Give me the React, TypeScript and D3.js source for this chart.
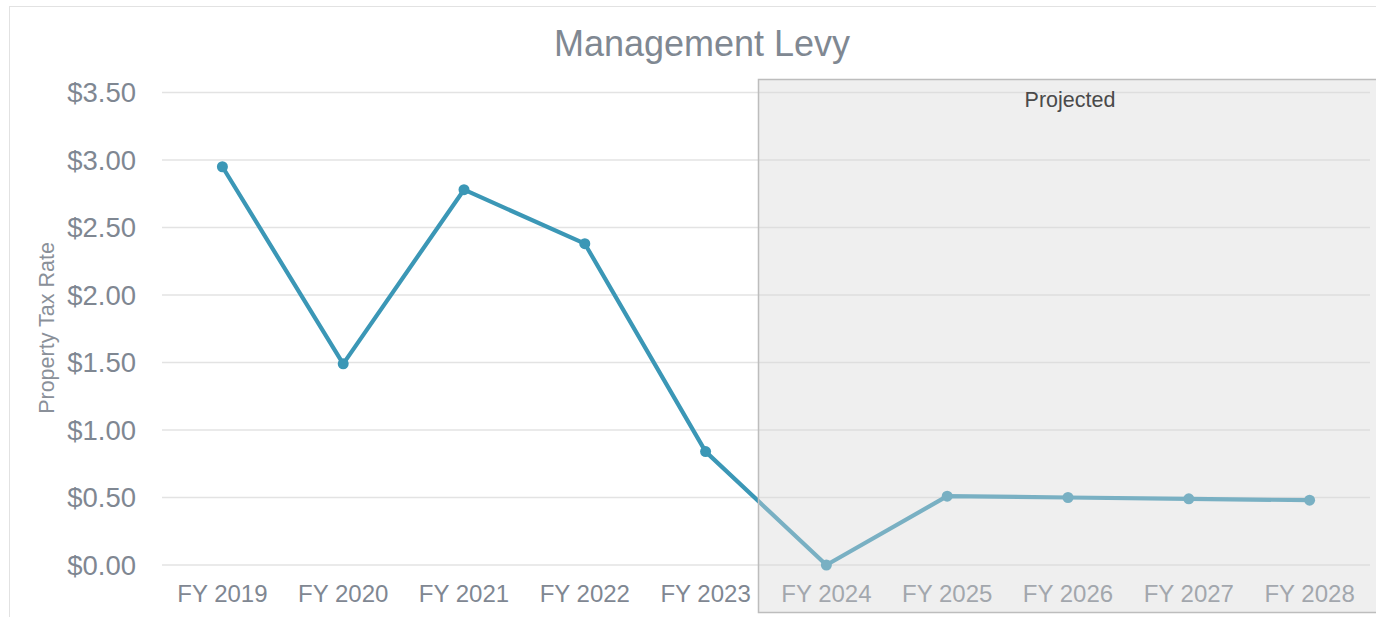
import React, { useEffect, useRef } from 'react';
import * as d3 from 'd3';

const years = ['FY 2019', 'FY 2020', 'FY 2021', 'FY 2022', 'FY 2023', 'FY 2024', 'FY 2025', 'FY 2026', 'FY 2027', 'FY 2028'];
const levy = [2.95, 1.49, 2.78, 2.38, 0.84, 0.0, 0.51, 0.5, 0.49, 0.48];
const yTicks = [0, 0.5, 1, 1.5, 2, 2.5, 3, 3.5];
const projectedFrom = 'FY 2024';

const W = 1376;
const H = 617;

export default function App() {
  const ref = useRef<SVGSVGElement>(null);

  useEffect(() => {
    const svg = d3.select(ref.current);
    svg.selectAll('*').remove();

    const font = '"Liberation Sans", Arial, sans-serif';
    const left = 162, right = 1370, top = 92.5, bottom = 565;

    // outer frame
    svg.append('rect')
      .attr('x', 9.5).attr('y', 6.5)
      .attr('width', W + 20).attr('height', H + 20)
      .attr('fill', '#fff').attr('stroke', '#e2e2e2');

    const x = d3.scaleBand().domain(years).range([left, right]).padding(0);
    const y = d3.scaleLinear().domain([0, 3.5]).range([bottom, top]);

    // gridlines
    svg.append('g')
      .selectAll('line')
      .data(yTicks)
      .join('line')
      .attr('x1', left).attr('x2', right)
      .attr('y1', d => y(d)).attr('y2', d => y(d))
      .attr('stroke', '#e3e3e3').attr('stroke-width', 1.5);

    // y ticks
    svg.append('g')
      .selectAll('text')
      .data(yTicks)
      .join('text')
      .attr('x', 136).attr('y', d => y(d))
      .attr('dy', '0.35em')
      .attr('text-anchor', 'end')
      .attr('font-family', font).attr('font-size', 27.5)
      .attr('fill', '#7f8792')
      .text(d => d3.format('$.2f')(d));

    // x ticks
    svg.append('g')
      .selectAll('text')
      .data(years)
      .join('text')
      .attr('x', d => (x(d) as number) + x.bandwidth() / 2)
      .attr('y', 602)
      .attr('text-anchor', 'middle')
      .attr('font-family', font).attr('font-size', 24)
      .attr('fill', '#7f8792')
      .text(d => d);

    // y axis title
    svg.append('text')
      .attr('transform', `translate(54,328) rotate(-90)`)
      .attr('text-anchor', 'middle')
      .attr('font-family', font).attr('font-size', 21.5)
      .attr('fill', '#8a9099')
      .text('Property Tax Rate');

    // title
    svg.append('text')
      .attr('x', 702).attr('y', 56)
      .attr('text-anchor', 'middle')
      .attr('font-family', font).attr('font-size', 36)
      .attr('fill', '#808892')
      .text('Management Levy');

    const cx = (d: string) => (x(d) as number) + x.bandwidth() / 2;

    // line
    const line = d3.line<number>()
      .x((_, i) => cx(years[i]))
      .y(d => y(d));
    svg.append('path')
      .datum(levy)
      .attr('d', line)
      .attr('fill', 'none')
      .attr('stroke', '#3b97b6')
      .attr('stroke-width', 4.2)
      .attr('stroke-linejoin', 'round');

    svg.append('g')
      .selectAll('circle')
      .data(levy)
      .join('circle')
      .attr('cx', (_, i) => cx(years[i]))
      .attr('cy', d => y(d))
      .attr('r', 5.5)
      .attr('fill', '#3b97b6');

    // projected overlay
    const px = (x(projectedFrom) as number) - 8;
    svg.append('rect')
      .attr('x', px + 0.5).attr('y', 79.5)
      .attr('width', W + 20 - px).attr('height', 533)
      .attr('fill', 'rgb(214,214,214)').attr('fill-opacity', 0.4)
      .attr('stroke', '#bdbdbd').attr('stroke-width', 1.5);

    svg.append('text')
      .attr('x', 1070).attr('y', 107)
      .attr('text-anchor', 'middle')
      .attr('font-family', font).attr('font-size', 21.5)
      .attr('fill', '#4a4a4a')
      .text('Projected');
  }, []);

  return (
    <svg ref={ref} width={W} height={H}
      style={{ position: 'absolute', left: 0, top: 0, display: 'block' }} />
  );
}
